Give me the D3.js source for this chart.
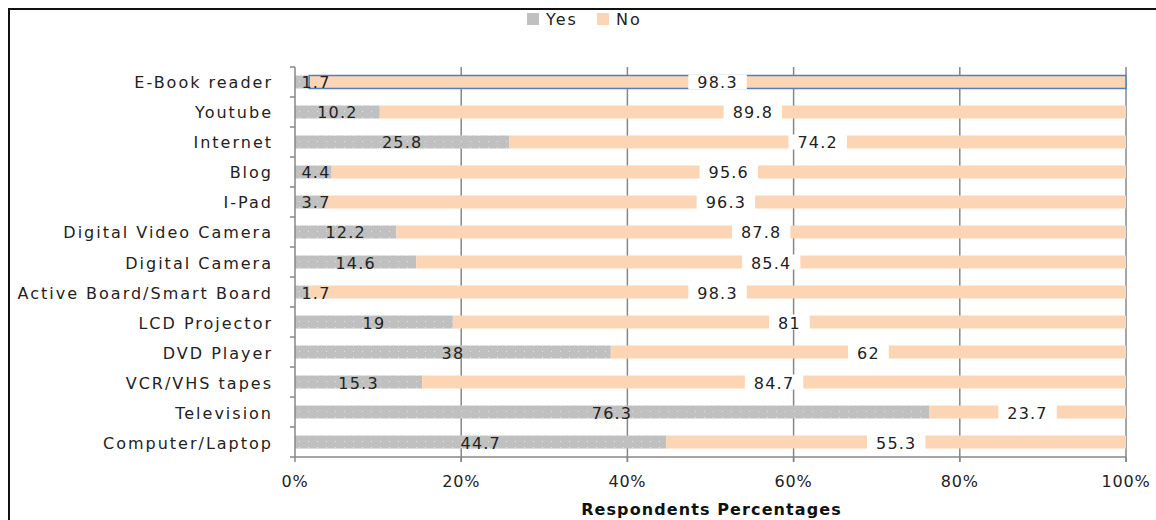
<!DOCTYPE html>
<html>
<head>
<meta charset="utf-8">
<script src="https://cdn.jsdelivr.net/npm/d3@7"></script>
<style>
  body { margin: 0; background: #fff; }
  svg { display: block; }
</style>
</head>
<body>
<div id="chart"></div>
<script>
// Data
const categories = [
  "E-Book reader", "Youtube", "Internet", "Blog", "I-Pad",
  "Digital Video Camera", "Digital Camera", "Active Board/Smart Board",
  "LCD Projector", "DVD Player", "VCR/VHS tapes", "Television", "Computer/Laptop"
];
const yesValues = [1.7, 10.2, 25.8, 4.4, 3.7, 12.2, 14.6, 1.7, 19, 38, 15.3, 76.3, 44.7];
const noValues = [98.3, 89.8, 74.2, 95.6, 96.3, 87.8, 85.4, 98.3, 81, 62, 84.7, 23.7, 55.3];
const xTicks = [0, 20, 40, 60, 80, 100];
const seriesNames = ["Yes", "No"];

const width = 1156, height = 520;
const margin = { top: 67, right: 30, bottom: 63, left: 295 };
const innerWidth = width - margin.left - margin.right;
const innerHeight = height - margin.top - margin.bottom;
const colors = { Yes: "#c0c0c0", No: "#fcd5b4" };
const font = "'DejaVu Sans', Verdana, sans-serif";

const svg = d3.select("#chart")
  .append("svg")
  .attr("width", width)
  .attr("height", height);

// dotted fill for the grey bars
const pat = svg.append("defs").append("pattern")
  .attr("id", "dots")
  .attr("patternUnits", "userSpaceOnUse")
  .attr("width", 9)
  .attr("height", 6);
pat.append("rect").attr("width", 9).attr("height", 6).attr("fill", colors.Yes);
pat.append("rect").attr("x", 4).attr("y", 2).attr("width", 1).attr("height", 1).attr("fill", "#e2e2e2");

// outer frame (only top and left visible)
svg.append("path")
  .attr("d", `M9,${height} L9,9 L${width},9`)
  .attr("fill", "none")
  .attr("stroke", "#111")
  .attr("stroke-width", 2);

const g = svg.append("g")
  .attr("transform", `translate(${margin.left},${margin.top})`);

const x = d3.scaleLinear().domain([0, 100]).range([0, innerWidth]);
const y = d3.scaleBand().domain(categories).range([0, innerHeight]).paddingInner(0.567).paddingOuter(0.283);

// gridlines
g.selectAll(".grid")
  .data(xTicks.filter((d) => d > 0))
  .enter()
  .append("line")
  .attr("x1", (d) => x(d))
  .attr("x2", (d) => x(d))
  .attr("y1", 0)
  .attr("y2", innerHeight + 5)
  .attr("stroke", "#878787")
  .attr("stroke-width", 1.5);

const rows = categories.map((c, i) => ({ name: c, yes: yesValues[i], no: noValues[i] }));

// Yes bars
g.selectAll(".bar-yes")
  .data(rows)
  .enter()
  .append("rect")
  .attr("x", x(0))
  .attr("y", (d) => y(d.name))
  .attr("width", (d) => x(d.yes) - x(0))
  .attr("height", y.bandwidth())
  .attr("fill", "url(#dots)");

// No bars
g.selectAll(".bar-no")
  .data(rows)
  .enter()
  .append("rect")
  .attr("x", (d) => x(d.yes))
  .attr("y", (d) => y(d.name))
  .attr("width", (d) => x(d.yes + d.no) - x(d.yes))
  .attr("height", y.bandwidth())
  .attr("fill", colors.No)
  .attr("stroke", (d, i) => (i === 0 ? "#4f81bd" : "none"))
  .attr("stroke-width", 1.5);

const labelStyle = (sel, spacing) => sel
  .style("font-family", font)
  .style("font-size", "16px")
  .style("letter-spacing", spacing)
  .attr("fill", "#222");

// Yes labels
g.selectAll(".lab-yes")
  .data(rows)
  .enter()
  .append("text")
  .attr("x", (d) => Math.max(x(d.yes / 2), 21))
  .attr("y", (d) => y(d.name) + y.bandwidth() / 2 + 2)
  .attr("text-anchor", "middle")
  .attr("dominant-baseline", "middle")
  .call(labelStyle, "1.2px")
  .text((d) => d.yes);

// No labels with white box behind
const noLab = g.selectAll(".lab-no")
  .data(rows)
  .enter()
  .append("g")
  .attr("transform", (d) => `translate(${x(d.yes + d.no / 2)},${y(d.name) + y.bandwidth() / 2})`);

noLab.each(function (d) {
  const sel = d3.select(this);
  const bg = sel.append("rect").attr("fill", "#fff");
  const t = sel.append("text")
    .attr("y", 2)
    .attr("text-anchor", "middle")
    .attr("dominant-baseline", "middle")
    .call(labelStyle, "1.2px")
    .text(d.no);
  const bb = t.node().getBBox();
  bg.attr("x", bb.x - 9)
    .attr("width", bb.width + 18)
    .attr("y", -y.bandwidth() / 2 - 1)
    .attr("height", y.bandwidth() + 2);
});

// left axis
const yAxis = g.append("g");
yAxis.append("line")
  .attr("x1", 0).attr("x2", 0).attr("y1", 0).attr("y2", innerHeight)
  .attr("stroke", "#878787").attr("stroke-width", 1.5);
const step = y.step();
yAxis.selectAll(".ytick")
  .data(d3.range(categories.length + 1))
  .enter()
  .append("line")
  .attr("x1", -5).attr("x2", 0)
  .attr("y1", (i) => y(categories[0]) - y.paddingOuter() * step + i * step)
  .attr("y2", (i) => y(categories[0]) - y.paddingOuter() * step + i * step)
  .attr("stroke", "#878787").attr("stroke-width", 1.5);
yAxis.selectAll(".ylab")
  .data(categories)
  .enter()
  .append("text")
  .attr("x", -22)
  .attr("y", (d) => y(d) + y.bandwidth() / 2 + 2)
  .attr("text-anchor", "end")
  .attr("dominant-baseline", "middle")
  .call(labelStyle, "2px")
  .text((d) => d);

// bottom axis
const xAxis = g.append("g").attr("transform", `translate(0,${innerHeight})`);
xAxis.append("line")
  .attr("x1", 0).attr("x2", innerWidth)
  .attr("stroke", "#878787").attr("stroke-width", 1.5);
xAxis.selectAll(".xtick")
  .data(xTicks)
  .enter()
  .append("line")
  .attr("x1", (d) => x(d)).attr("x2", (d) => x(d))
  .attr("y1", 0).attr("y2", 5)
  .attr("stroke", "#878787").attr("stroke-width", 1.5);
xAxis.selectAll(".xlab")
  .data(xTicks)
  .enter()
  .append("text")
  .attr("x", (d) => x(d))
  .attr("y", 25)
  .attr("text-anchor", "middle")
  .attr("dominant-baseline", "middle")
  .call(labelStyle, "0.8px")
  .text((d) => d + "%");

// axis title
svg.append("text")
  .attr("x", (583 + 840) / 2)
  .attr("y", 510)
  .attr("text-anchor", "middle")
  .attr("dominant-baseline", "middle")
  .style("font-family", font)
  .style("font-weight", "bold")
  .style("font-size", "16px")
  .style("letter-spacing", "1.1px")
  .attr("fill", "#111")
  .text("Respondents Percentages");

// legend
const legend = svg.append("g").attr("transform", "translate(527,19)");
const legItems = legend.selectAll(".leg")
  .data(seriesNames)
  .enter()
  .append("g")
  .attr("transform", (d, i) => `translate(${i * 70},0)`);
legItems.append("rect")
  .attr("x", 0).attr("y", -6)
  .attr("width", 12).attr("height", 12)
  .attr("fill", (d) => colors[d]);
legItems.append("text")
  .attr("x", 19)
  .attr("y", 1)
  .attr("dominant-baseline", "middle")
  .call(labelStyle, "2px")
  .text((d) => d);
</script>
</body>
</html>
